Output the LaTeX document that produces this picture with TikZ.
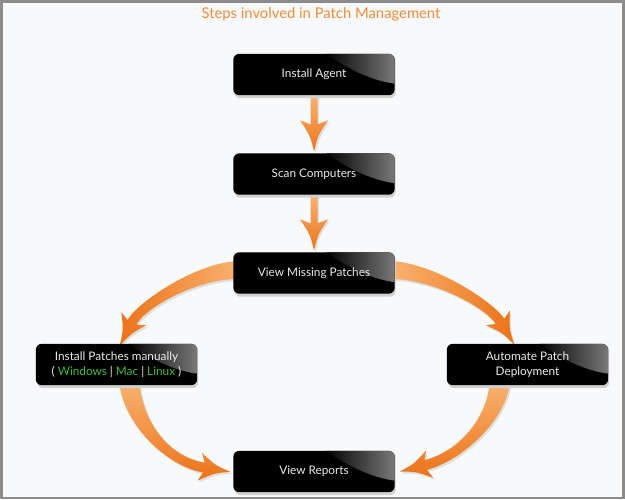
\documentclass[tikz,border=0pt]{standalone}
\usepackage{fontspec}
\setmainfont{Lato}
\usetikzlibrary{calc}
\definecolor{bgc}{HTML}{F8F9FB}
\definecolor{ttl}{HTML}{F28C38}
\definecolor{olight}{HTML}{F8B574}
\definecolor{odark}{HTML}{EC7318}
\definecolor{grn}{HTML}{3DBE3D}
\definecolor{framec}{HTML}{8C8C8C}
\pgfdeclarelayer{backl}
\pgfdeclarelayer{arrowl}
\pgfdeclarelayer{boxl}
\pgfsetlayers{backl,arrowl,boxl,main}
\tikzset{
  stepbox/.style={minimum width=161pt, minimum height=41pt, inner sep=0pt,
    text=white!92!black, align=center, font=\fontsize{11.8}{15}\selectfont},
  vshade/.style={top color=olight, bottom color=odark},
}
\newcommand\glossbox[1]{%
\begin{pgfonlayer}{boxl}
\fill[black!18, rounded corners=6pt] ($(#1.south west)+(1,3)$) rectangle ($(#1.north east)+(1,1)$);
\fill[black, rounded corners=6pt] (#1.south west) rectangle (#1.north east);
\begin{scope}
\clip[rounded corners=6pt] (#1.south west) rectangle (#1.north east);
\path[left color=black, right color=black!52!white] ($(#1.north east)+(-70,-1)$) -- ($(#1.north east)+(1,-1)$) -- ($(#1.north east)+(1,30)$) .. controls ($(#1.north east)+(-25,27)$) and ($(#1.north east)+(-52,12)$) .. ($(#1.north east)+(-70,-1)$) -- cycle;
\end{scope}
\end{pgfonlayer}}
\newcommand\orarrow[8]{%
 \coordinate (#1p0) at #2; \coordinate (#1p1) at #3; \coordinate (#1p2) at #4; \coordinate (#1p3) at #5;
 \coordinate (#1l0) at ($(#1p0)!#6!90:(#1p1)$);
 \coordinate (#1l1) at ($(#1p1)!#6!-90:(#1p0)$);
 \coordinate (#1l2) at ($(#1p2)!#7!90:(#1p3)$);
 \coordinate (#1l3) at ($(#1p3)!#7!-90:(#1p2)$);
 \coordinate (#1r0) at ($(#1p0)!#6!-90:(#1p1)$);
 \coordinate (#1r1) at ($(#1p1)!#6!90:(#1p0)$);
 \coordinate (#1r2) at ($(#1p2)!#7!-90:(#1p3)$);
 \coordinate (#1r3) at ($(#1p3)!#7!90:(#1p2)$);
 \coordinate (#1b) at ($(#1p3)!4pt!(#1p2)$);
 \coordinate (#1bl) at ($(#1b)!14pt!-90:(#1p2)$);
 \coordinate (#1br) at ($(#1b)!14pt!90:(#1p2)$);
 \coordinate (#1t) at ($(#1p3)!-27pt!(#1p2)$);
 \coordinate (#1m) at ($(#1p3)!-11pt!(#1p2)$);
 \coordinate (#1ml) at ($(#1m)!4pt!-90:(#1p2)$);
 \coordinate (#1mr) at ($(#1m)!4pt!90:(#1p2)$);
 \begin{pgfonlayer}{arrowl}
 \path[fill=black, opacity=0.10, transform canvas={shift={(1.5,2)}}] (#1l0) .. controls (#1l1) and (#1l2) .. (#1l3) -- (#1bl) .. controls (#1ml) .. (#1t) .. controls (#1mr) .. (#1br) -- (#1r3) .. controls (#1r2) and (#1r1) .. (#1r0) -- cycle;
 \path[#8] (#1l0) .. controls (#1l1) and (#1l2) .. (#1l3) -- (#1bl) .. controls (#1ml) .. (#1t) .. controls (#1mr) .. (#1br) -- (#1r3) .. controls (#1r2) and (#1r1) .. (#1r0) -- cycle;
 \end{pgfonlayer}
}
\begin{document}
\begin{tikzpicture}[x=1pt,y=-1pt]
\useasboundingbox (0,0) rectangle (625,499);
\begin{pgfonlayer}{backl}
\fill[bgc] (0,0) rectangle (625,499);
\draw[framec, line width=2.5pt] (1.25,1.25) rectangle (623.5,497.75);
\end{pgfonlayer}
\node[text=ttl, font=\fontsize{14.8}{17}\selectfont] (title) at (321,14) {Steps involved in Patch Management};
\node[stepbox] (ia) at (314,74.5) {Install Agent};
\node[stepbox] (sc) at (314,174) {Scan Computers};
\node[stepbox] (vmp) at (314,273) {View Missing Patches};
\node[stepbox] (ipm) at (116.5,364.5) {Install Patches manually\\( \textcolor{grn}{Windows} | \textcolor{grn}{Mac} | \textcolor{grn}{Linux} )};
\node[stepbox] (apd) at (527.5,364.5) {Automate Patch\\Deployment};
\node[stepbox] (vr) at (314,471.5) {View Reports};
\glossbox{ia}\glossbox{sc}\glossbox{vmp}\glossbox{ipm}\glossbox{apd}\glossbox{vr}
\orarrow{va}{($(ia.south)+(0,-1)$)}{(314,105)}{(314,115)}{($(sc.north)+(0,-29)$)}{3.5pt}{3.5pt}{vshade}
\orarrow{vb}{($(sc.south)+(0,-1)$)}{(314,205)}{(314,214)}{($(vmp.north)+(0,-29)$)}{3.5pt}{3.5pt}{vshade}
\orarrow{tl}{($(vmp.west)+(10,-3)$)}{(200,268)}{(141,305)}{($(ipm.north)+(15.5,-21.5)$)}{9pt}{5pt}{left color=odark, right color=olight}
\orarrow{tr}{($(vmp.east)+(-10,-3)$)}{(430,268)}{(490,305)}{($(apd.north)+(-27.5,-22.5)$)}{9pt}{5pt}{left color=olight, right color=odark}
\orarrow{bl}{($(ipm.south)+(12.5,-6)$)}{(132,425)}{(170,462)}{($(vr.west)+(-29.5,-4)$)}{10pt}{5pt}{vshade}
\orarrow{br}{($(apd.south)+(-27.5,-6)$)}{(498,420)}{(459,456.5)}{($(vr.east)+(31,-6.5)$)}{10pt}{5pt}{vshade}
\end{tikzpicture}
\end{document}
